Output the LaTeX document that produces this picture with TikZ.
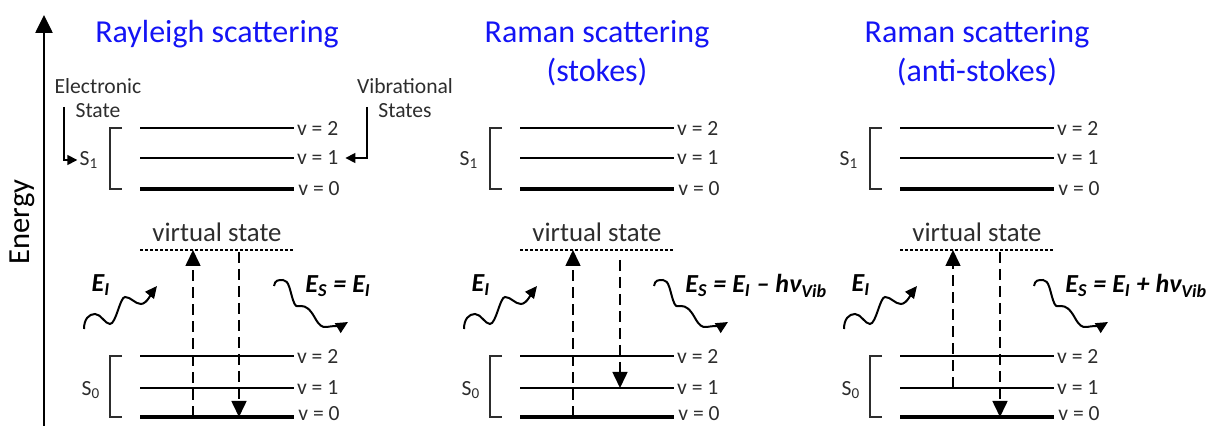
\documentclass[tikz,border=0pt]{standalone}
\usepackage{fontspec}
\setmainfont{Carlito}
\usetikzlibrary{arrows.meta}
\definecolor{cTitle}{RGB}{20,20,245}
\definecolor{cText} {RGB}{45,45,45}

\begin{document}
\begin{tikzpicture}[x=0.5pt,y=-0.5pt,
  >={Triangle[length=8pt,width=7.5pt]},
  % one unit = one pixel of the 1206 x 426 layout
  title/.style={text=cTitle,align=center,font=\fontsize{16}{19.5}\selectfont},
  lab/.style={text=cText,font=\fontsize{10.8}{12}\selectfont,inner sep=1pt},
  vlab/.style={text=cText,font=\fontsize{13.4}{15}\selectfont},
  elab/.style={font=\bfseries\itshape\fontsize{13}{15}\selectfont,inner sep=0pt},
  lvl/.style={line width=1.1pt},
  ground/.style={line width=2.4pt},
  brk/.style={line width=0.75pt,cText},
  virt/.style={line width=0.7pt,dash pattern=on 1.5pt off 1pt},
  trans/.style={->,line width=0.8pt,dash pattern=on 5.5pt off 3pt},
  lead/.style={-{Triangle[length=5pt,width=5pt]},line width=0.8pt},
  wave/.style={-{Triangle[length=6pt,width=5.5pt]},line width=1pt},
  axis/.style={-{Triangle[length=9pt,width=8.5pt]},line width=1.3pt},
]
\useasboundingbox (0,0) rectangle (1206,426);

% ------------------------------------------------------------------ energy axis
\coordinate (axis-bot) at (44,426);
\coordinate (axis-top) at (44,15);
\draw[axis] (axis-bot) -- (axis-top);
\node[rotate=90,font=\fontsize{15.3}{17}\selectfont] (energy) at (22,222) {Energy};

% ------------------------------------------------------------------ titles
\node[title] (ray-title) at (217,34) {Rayleigh scattering};
\node[title] (sto-title) at (597,53) {Raman scattering\\(stokes)};
\node[title] (ant-title) at (977,53) {Raman scattering\\(anti-stokes)};

% ------------------------------------------------- levels, the same in each panel
\foreach \dx/\p in {0/ray,380/sto,760/ant}{
  \begin{scope}[shift={(\dx,0)}]
    % excited electronic state S1
    \draw[lvl]    (140,128) -- (294,128) node[lab,anchor=west] (\p-u2) {v = 2};
    \draw[lvl]    (140,158) -- (294,158) node[lab,anchor=west] (\p-u1) {v = 1};
    \draw[ground] (140,189) -- (294,189) node[lab,anchor=west] (\p-u0) {v = 0};
    \draw[brk] (122,128) -| (110,189) -- (122,189);
    \node[lab] (\p-s1) at (89,160) {S\textsubscript{1}};
    % virtual state
    \draw[virt] (140,250) -- (293,250);
    \node[vlab] (\p-virt) at (217,232) {virtual state};
    % ground electronic state S0
    \draw[lvl]    (140,356) -- (294,356) node[lab,anchor=west] (\p-l2) {v = 2};
    \draw[lvl]    (140,388) -- (294,388) node[lab,anchor=west] (\p-l1) {v = 1};
    \draw[ground] (140,417) -- (294,417) node[lab,anchor=west,yshift=1.5pt] (\p-l0) {v = 0};
    \draw[brk] (122,356) -| (110,417) -- (122,417);
    \node[lab] (\p-s0) at (91,390) {S\textsubscript{0}};
    % incoming and scattered photons
    \coordinate (\p-in0)  at (84,329);
    \coordinate (\p-in1)  at (157,286);
    \coordinate (\p-out0) at (274,286);
    \coordinate (\p-out1) at (348,322);
    \draw[wave] (\p-in0) .. controls +(0,-10) and +(-6,0) .. ++(11,-15)
                         .. controls +(6,0) and +(-5,0) .. ++(15,10)
                         .. controls +(6,0) and +(-5,0) .. ++(15,-27)
                         .. controls +(6,0) and +(-6,0) .. ++(16,7)
                         .. controls +(6,0) and +(-4,5) .. (\p-in1);
    \draw[wave] (\p-out0) .. controls +(1,-6) and +(-5,0) .. ++(9,-6)
                          .. controls +(6,0) and +(-3,-9) .. ++(10,20)
                          .. controls +(3,8) and +(-5,0) .. ++(8,6)
                          .. controls +(5,0) and +(-5,-9) .. ++(14,12)
                          .. controls +(4,7) and +(-5,1) .. ++(12,9)
                          .. controls +(5,-1) and +(-5,3) .. (\p-out1);
    \node[elab] (\p-ei) at (101,285) {E\textsubscript{I}};
  \end{scope}
}

% ------------------------------------------------------------------ scattered energy
\node[elab,anchor=west] (ray-es) at (305,286) {E\textsubscript{S} = E\textsubscript{I}};
\node[elab,anchor=west] (sto-es) at (685,286) {E\textsubscript{S} = E\textsubscript{I} – hν\textsubscript{Vib}};
\node[elab,anchor=west] (ant-es) at (1065,286) {E\textsubscript{S} = E\textsubscript{I} + hν\textsubscript{Vib}};

% ------------------------------------------------------------------ transitions
\coordinate (ray-a0) at (193,417);  \coordinate (ray-a1) at (193,250);
\coordinate (ray-b0) at (239,252);  \coordinate (ray-b1) at (239,417);
\coordinate (sto-a0) at (573,417);  \coordinate (sto-a1) at (573,250);
\coordinate (sto-b0) at (620,260);  \coordinate (sto-b1) at (620,388);
\coordinate (ant-a0) at (953,388);  \coordinate (ant-a1) at (953,250);
\coordinate (ant-b0) at (1000,252); \coordinate (ant-b1) at (1000,417);
\draw[trans] (ray-a0) -- (ray-a1);
\draw[trans] (ray-b0) -- (ray-b1);
\draw[trans] (sto-a0) -- (sto-a1);
\draw[trans] (sto-b0) -- (sto-b1);
\draw[trans] (ant-a0) -- (ant-a1);
\draw[trans] (ant-b0) -- (ant-b1);

% ------------------------------------------------------------------ side notes
\node[lab,align=center] (elec) at (98,98)  {Electronic\\State};
\node[lab,align=center] (vib)  at (405,98) {Vibrational\\States};
\coordinate (elec-a) at (64,107);
\coordinate (vib-a)  at (367,107);
\draw[lead] (elec-a) |- (ray-s1.west);
\draw[lead] (vib-a)  |- ([xshift=2pt]ray-u1.east);

\end{tikzpicture}
\end{document}
